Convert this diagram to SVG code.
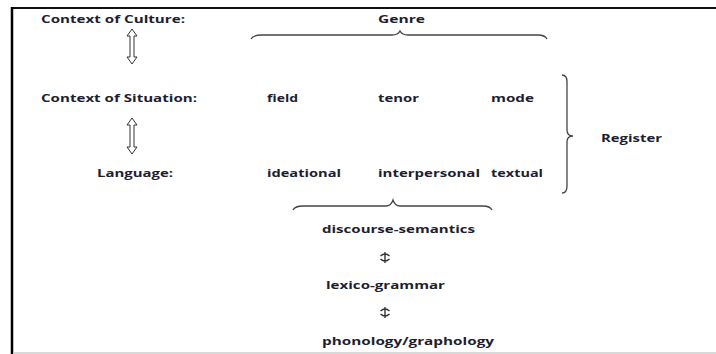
<svg xmlns="http://www.w3.org/2000/svg" width="716" height="354" viewBox="0 0 716 354">
<style>
  text { font-family: "Open Sans", "Liberation Sans", sans-serif; font-weight: 700; font-size: 11px; fill: #1e1e2e; }
  .brace { fill: none; stroke: #444; stroke-width: 1.3; }
  .hollow { fill: #fff; stroke: #333; stroke-width: 1; }
  .small { fill: none; stroke: #333; stroke-width: 1.4; }
</style>
<rect x="0" y="0" width="716" height="354" fill="#fff"/>
<g id="frame">
  <line x1="11" y1="8" x2="716" y2="8" stroke="#111" stroke-width="2"/>
  <line x1="12" y1="7" x2="12" y2="354" stroke="#000" stroke-width="2.5"/>
  <line x1="13" y1="353" x2="716" y2="353" stroke="#ccc" stroke-width="1.5"/>
</g>
<g id="labels-left">
  <g id="culture"><text x="41" y="23" textLength="144" lengthAdjust="spacingAndGlyphs">Context of Culture:</text></g>
  <g id="situation"><text x="41" y="102" textLength="156" lengthAdjust="spacingAndGlyphs">Context of Situation:</text></g>
  <g id="language"><text x="97" y="177" textLength="76" lengthAdjust="spacingAndGlyphs">Language:</text></g>
</g>
<g id="genre"><text x="378" y="23" textLength="47" lengthAdjust="spacingAndGlyphs">Genre</text></g>
<g id="field"><text x="267" y="102" textLength="31" lengthAdjust="spacingAndGlyphs">field</text></g>
<g id="tenor"><text x="378" y="102" textLength="41" lengthAdjust="spacingAndGlyphs">tenor</text></g>
<g id="mode"><text x="491" y="102" textLength="43" lengthAdjust="spacingAndGlyphs">mode</text></g>
<g id="register"><text x="601" y="142" textLength="61" lengthAdjust="spacingAndGlyphs">Register</text></g>
<g id="ideational"><text x="267" y="177" textLength="74" lengthAdjust="spacingAndGlyphs">ideational</text></g>
<g id="interpersonal"><text x="378" y="177" textLength="102" lengthAdjust="spacingAndGlyphs">interpersonal</text></g>
<g id="textual"><text x="491" y="177" textLength="52" lengthAdjust="spacingAndGlyphs">textual</text></g>
<g id="discourse"><text x="322" y="233" textLength="153" lengthAdjust="spacingAndGlyphs">discourse-semantics</text></g>
<g id="lexico"><text x="326" y="289" textLength="119" lengthAdjust="spacingAndGlyphs">lexico-grammar</text></g>
<g id="phonology"><text x="322" y="345" textLength="172" lengthAdjust="spacingAndGlyphs">phonology/graphology</text></g>
<g id="connectors">
  <polygon class="hollow" points="132,29 137,36 134,36 134,57 137,57 132,64 127,57 130,57 130,36 127,36"/>
  <polygon class="hollow" points="132,118 137,125 134,125 134,147 137,147 132,154 127,147 130,147 130,125 127,125"/>
  <path class="brace" d="M251,39 Q253,35 262,35 L392,35 Q398,35 400,31 Q402,35 408,35 L538,35 Q545,35 547,39"/>
  <path class="brace" d="M293,210 Q295,206 303,206 L386,206 Q391,206 393,200 Q395,206 400,206 L483,206 Q490,206 492,210"/>
  <path class="brace" d="M562,75 Q567,75 567,82 L567,130 Q567,136 573,136 Q567,136 567,142 L567,186 Q567,193 562,193"/>
  <path class="small" d="M385,252 L385,263 M380.5,256 Q385,252 389.5,256 M380.5,259 Q385,263 389.5,259"/>
  <path class="small" d="M385,307 L385,318 M380.5,311 Q385,307 389.5,311 M380.5,314 Q385,318 389.5,314"/>
</g>
</svg>
